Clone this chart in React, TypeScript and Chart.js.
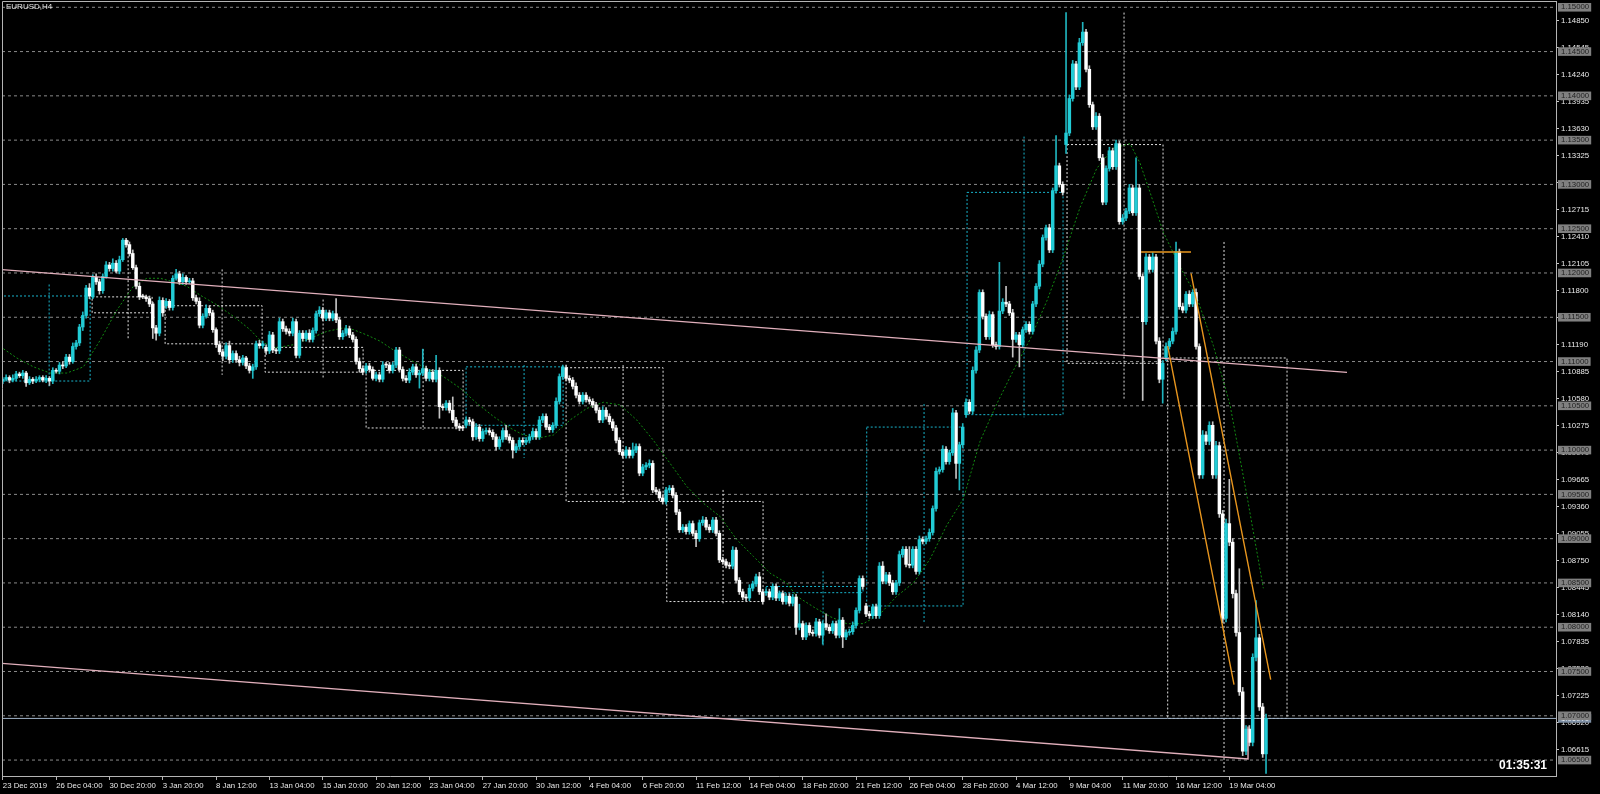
import React, { useEffect, useRef } from 'react';
import { Chart, registerables } from 'chart.js';

Chart.register(...registerables);

// ---------------- data (prices in pips above 1.0000 : 1082 -> 1.1082) ----------------
const CLOSE: number[] = [
  1080, 1082, 1079, 1081, 1086, 1084, 1087, 1076, 1080, 1078,
  1080, 1082, 1079, 1081, 1078, 1090, 1089, 1096, 1095, 1105,
  1100, 1117, 1121, 1139, 1152, 1183, 1174, 1195, 1190, 1180,
  1196, 1209, 1205, 1211, 1202, 1215, 1237, 1232, 1222, 1206,
  1185, 1173, 1173, 1171, 1165, 1138, 1132, 1169, 1155, 1168,
  1161, 1194, 1199, 1190, 1195, 1190, 1191, 1172, 1168, 1141,
  1151, 1160, 1155, 1136, 1119, 1111, 1106, 1118, 1102, 1109,
  1102, 1099, 1104, 1095, 1090, 1094, 1120, 1118, 1120, 1112,
  1130, 1113, 1112, 1145, 1137, 1134, 1132, 1145, 1107, 1132,
  1126, 1132, 1125, 1135, 1154, 1158, 1149, 1155, 1149, 1154,
  1147, 1128, 1132, 1137, 1130, 1125, 1100, 1092, 1088, 1095,
  1091, 1081, 1085, 1080, 1096, 1096, 1090, 1096, 1113, 1091,
  1081, 1079, 1088, 1094, 1085, 1087, 1092, 1081, 1088, 1080,
  1090, 1049, 1048, 1053, 1045, 1034, 1027, 1025, 1025, 1034,
  1032, 1015, 1026, 1013, 1021, 1022, 1020, 1015, 1004, 1012,
  1022, 1015, 1011, 1000, 1004, 1011, 1009, 1011, 1015, 1021,
  1015, 1034, 1038, 1026, 1023, 1028, 1055, 1083, 1094, 1081,
  1079, 1072, 1062, 1055, 1062, 1057, 1055, 1051, 1045, 1034,
  1045, 1038, 1032, 1025, 1011, 998, 994, 1000, 994, 1000,
  1004, 974, 981, 983, 985, 955, 953, 946, 942, 955,
  957, 949, 930, 910, 913, 908, 917, 906, 900, 918,
  921, 913, 910, 921, 906, 876, 874, 870, 869, 887,
  853, 840, 834, 833, 844, 849, 857, 840, 829, 840,
  834, 846, 833, 838, 829, 835, 827, 834, 800, 804,
  789, 802, 794, 793, 806, 791, 804, 800, 796, 804,
  791, 808, 789, 794, 795, 802, 819, 855, 846, 815,
  813, 823, 813, 869, 852, 859, 850, 840, 850, 882,
  888, 871, 870, 888, 863, 899, 897, 900, 907, 934,
  976, 978, 1001, 987, 997, 1042, 985, 1006, 1026, 1054,
  1044, 1090, 1113, 1178, 1151, 1128, 1153, 1119, 1117, 1157,
  1167, 1165, 1155, 1125, 1130, 1119, 1136, 1142, 1134, 1165,
  1185, 1210, 1240, 1251, 1226, 1293, 1321, 1300, 1291, 1358,
  1397, 1436, 1410, 1460, 1472, 1430, 1390, 1365, 1377, 1330,
  1280, 1318, 1338, 1320, 1346, 1258, 1262, 1270, 1296, 1268,
  1296, 1196, 1145, 1218, 1204, 1218, 1123, 1080, 1098, 1117,
  1123, 1134, 1224, 1162, 1158, 1176, 1165, 1178, 1117, 972,
  1017, 1010, 1028, 972, 1005, 928, 810, 917, 896, 838,
  794, 727, 660, 685, 670, 766, 788, 710, 657, 697,
];

// wick lengths (pips) above the body top / below the body bottom
const UPPER_WICK: number[] = [
  2, 3, 2, 4, 3, 2, 3, 2, 3, 2, 3, 2, 2, 3, 2, 3, 2, 3, 4, 3,
  3, 4, 3, 3, 4, 3, 5, 3, 4, 3, 3, 4, 3, 5, 3, 4, 2, 2, 3, 4,
  3, 4, 3, 2, 3, 2, 3, 4, 3, 3, 2, 3, 5, 3, 4, 2, 3, 3, 3, 4,
  3, 4, 3, 3, 2, 4, 3, 3, 5, 3, 3, 4, 3, 2, 3, 3, 3, 4, 3, 3,
  4, 3, 2, 4, 3, 3, 3, 4, 3, 3, 3, 3, 4, 3, 3, 4, 3, 3, 3, 3,
  17, 3, 3, 4, 3, 3, 3, 4, 3, 3, 3, 3, 3, 3, 4, 3, 3, 3, 3, 3,
  3, 3, 4, 3, 3, 3, 22, 3, 3, 3, 17, 3, 3, 3, 3, 15, 3, 3, 3, 3,
  3, 3, 4, 3, 3, 3, 3, 3, 3, 3, 3, 6, 3, 3, 3, 3, 3, 3, 3, 4,
  3, 4, 3, 3, 3, 3, 4, 3, 2, 3, 3, 3, 4, 3, 3, 3, 3, 3, 3, 3,
  4, 3, 3, 3, 3, 3, 3, 4, 3, 8, 3, 3, 3, 3, 4, 3, 3, 3, 3, 3,
  3, 3, 3, 3, 3, 3, 3, 3, 3, 3, 4, 3, 3, 3, 3, 3, 3, 3, 3, 4,
  3, 3, 3, 3, 4, 3, 3, 5, 3, 3, 3, 3, 3, 3, 3, 3, 3, 3, 3, 22,
  3, 3, 3, 3, 4, 3, 3, 11, 3, 3, 3, 13, 3, 3, 3, 4, 3, 3, 3, 3,
  3, 3, 3, 4, 5, 3, 3, 3, 3, 4, 3, 3, 20, 3, 3, 4, 3, 3, 4, 3,
  4, 3, 4, 3, 3, 5, 3, 3, 4, 4, 3, 4, 4, 3, 3, 3, 4, 3, 3, 55,
  4, 18, 3, 4, 3, 3, 3, 3, 3, 3, 3, 4, 3, 3, 4, 3, 34, 3, 3, 136,
  4, 4, 3, 5, 11, 3, 4, 3, 4, 3, 4, 3, 4, 3, 4, 3, 4, 3, 4, 3,
  34, 4, 3, 4, 3, 5, 3, 4, 3, 4, 3, 4, 11, 3, 4, 3, 4, 3, 4, 3,
  5, 4, 4, 4, 5, 4, 4, 5, 50, 4, 4, 72, 5, 4, 4, 4, 42, 4, 4, 5,
];
const LOWER_WICK: number[] = [
  3, 2, 3, 2, 3, 2, 3, 4, 2, 3, 2, 3, 2, 3, 5, 3, 2, 3, 3, 2,
  3, 2, 3, 3, 4, 3, 3, 2, 3, 4, 3, 2, 3, 3, 2, 3, 2, 3, 3, 2,
  3, 3, 2, 3, 3, 12, 8, 3, 4, 3, 3, 3, 2, 3, 3, 3, 2, 3, 3, 3,
  3, 2, 3, 3, 3, 3, 5, 3, 4, 3, 3, 4, 3, 3, 3, 9, 3, 3, 3, 4,
  3, 3, 3, 3, 3, 3, 3, 3, 3, 3, 3, 3, 3, 3, 3, 3, 3, 3, 3, 3,
  3, 3, 3, 3, 3, 3, 3, 4, 3, 3, 3, 2, 3, 3, 3, 3, 3, 3, 3, 3,
  3, 3, 3, 3, 3, 15, 3, 3, 3, 3, 3, 13, 3, 3, 3, 3, 3, 3, 3, 3,
  3, 4, 3, 3, 3, 3, 3, 3, 4, 3, 3, 3, 3, 9, 3, 3, 3, 3, 3, 3,
  3, 3, 3, 3, 3, 3, 3, 3, 3, 3, 3, 3, 3, 3, 3, 3, 3, 3, 3, 3,
  3, 3, 3, 3, 3, 3, 3, 3, 3, 3, 3, 3, 3, 3, 3, 3, 3, 3, 3, 3,
  3, 3, 3, 3, 3, 3, 3, 3, 9, 3, 3, 3, 3, 3, 3, 3, 3, 3, 3, 3,
  3, 3, 3, 3, 3, 3, 3, 3, 3, 3, 3, 3, 3, 3, 3, 3, 3, 3, 8, 3,
  3, 3, 3, 3, 3, 3, 10, 3, 3, 3, 3, 3, 12, 3, 3, 3, 3, 3, 3, 3,
  3, 3, 3, 3, 3, 3, 3, 3, 3, 3, 3, 3, 3, 3, 3, 3, 3, 3, 3, 3,
  3, 3, 3, 3, 3, 3, 17, 30, 3, 3, 3, 3, 3, 3, 3, 3, 3, 3, 3, 3,
  3, 3, 3, 20, 3, 25, 3, 3, 3, 3, 3, 3, 3, 3, 3, 3, 3, 3, 3, 10,
  3, 3, 3, 3, 3, 3, 3, 3, 3, 3, 3, 3, 3, 3, 3, 3, 3, 3, 3, 3,
  3, 3, 89, 3, 3, 3, 3, 4, 27, 3, 3, 3, 3, 3, 3, 3, 3, 3, 3, 4,
  4, 4, 4, 4, 4, 4, 5, 4, 4, 5, 4, 4, 5, 4, 4, 4, 4, 4, 4, 22,
];

// weekly (higher time frame) candles drawn as dotted boxes
const WEEK_START = [0, 27, 49, 79, 109, 139, 169, 199, 229, 259, 289, 319, 349];
const WEEK_OPEN = [1078, 1173, 1163, 1116, 1090, 1028, 1093, 942, 839, 824, 1040, 1345, 1104];
const WEEK_CLOSE = [1174, 1155, 1120, 1088, 1025, 1094, 942, 829, 846, 1026, 1291, 1098, 697];
const WEEK_HIGH = [1187, 1237, 1204, 1170, 1114, 1096, 1096, 955, 863, 1052, 1354, 1494, 1235];
const WEEK_LOW = [1072, 1125, 1085, 1082, 1023, 991, 940, 827, 778, 804, 1037, 1056, 635];
const WEEK_BOX_FROM = [-0.84, 26.8, 48.7, 78.7, 109.0, 139.0, 169.0, 199.2, 229.0, 259.2, 289.3, 319.3, 349.5];
const WEEK_BOX_TO = [26.2, 44.8, 77.8, 108.1, 138.1, 168.1, 198.1, 228.1, 258.1, 288.1, 318.1, 348.1, 385.3];
const WEEK_WICK_AT = [13.9, 37.6, 65.8, 96.1, 126.1, 156.4, 186.1, 216.1, 246.1, 276.4, 306.4, 336.4, 366.4];

// moving average (dotted green)
const MA_BAR = [-0.8, 4.2, 9.2, 14.2, 19.2, 24.2, 29.2, 34.2, 39.2, 43.2, 47.2, 51.2, 55.2, 59.2, 64.2, 69.2, 74.2, 77.2, 81.2, 87.2,
  92.2, 97.2, 102.2, 105.2, 109.2, 113.2, 117.2, 122.2, 127.2, 132.2, 137.2, 142.2, 147.2, 152.2, 156.2, 161.2, 165.2, 170.2, 175.2, 180.2,
  185.2, 190.2, 195.2, 200.2, 205.2, 210.2, 215.2, 220.2, 225.2, 230.2, 235.2, 238.2, 243.2, 248.2, 253.2, 258.2, 263.2, 268.2, 273.2, 278.2,
  283.2, 288.2, 293.2, 298.2, 303.2, 308.2, 313.2, 318.2, 323.2, 328.2, 333.2, 338.2, 341.2, 344.2, 348.2, 353.2, 358.2, 363.2, 368.2, 373.2, 378.2];
const MA_PIPS = [1117, 1104, 1094, 1087, 1087, 1094, 1124, 1158, 1185, 1194, 1194, 1190, 1185, 1175, 1164, 1151, 1136, 1124, 1115, 1119,
  1126, 1134, 1138, 1136, 1130, 1123, 1113, 1102, 1092, 1083, 1070, 1053, 1038, 1025, 1017, 1014, 1017, 1034, 1047, 1054,
  1051, 1034, 1011, 985, 959, 940, 925, 899, 880, 861, 850, 835, 823, 812, 804, 804, 815, 835, 850, 877,
  915, 945, 1010, 1052, 1090, 1125, 1168, 1218, 1274, 1318, 1341, 1346, 1324, 1291, 1246, 1207, 1173, 1118, 1051, 950, 844];

// trend lines (bar position, price)
const CHANNEL_UPPER_BARS = [-0.84, 403.3];
const CHANNEL_UPPER_PRICES = [1.12040, 1.10877];
const CHANNEL_LOWER_BARS = [-0.84, 373.6, 373.6];
const CHANNEL_LOWER_PRICES = [1.07593, 1.06512, 1.06880];
const ORANGE_TOP_BARS = [341.5, 356.5];
const ORANGE_TOP_PRICES = [1.12236, 1.12236];
const ORANGE_A_BARS = [356.5, 380.4];
const ORANGE_A_PRICES = [1.11995, 1.07407];
const ORANGE_B_BARS = [349.5, 369.4];
const ORANGE_B_PRICES = [1.11175, 1.07352];

// axis labels
const TIME_TICK_BARS = [0, 16, 32, 48, 64, 80, 96, 112, 128, 144, 160, 176, 192, 208, 224, 240, 256, 272, 288, 304, 320, 336, 352, 368];
const TIME_LABELS = ['23 Dec 2019', '26 Dec 04:00', '30 Dec 20:00', '3 Jan 20:00', '8 Jan 12:00', '13 Jan 04:00', '15 Jan 20:00',
  '20 Jan 12:00', '23 Jan 04:00', '27 Jan 20:00', '30 Jan 12:00', '4 Feb 04:00', '6 Feb 20:00', '11 Feb 12:00', '14 Feb 04:00',
  '18 Feb 20:00', '21 Feb 12:00', '26 Feb 04:00', '28 Feb 20:00', '4 Mar 12:00', '9 Mar 04:00', '11 Mar 20:00', '16 Mar 12:00', '19 Mar 04:00'];
const PRICE_TICKS = [1.14850, 1.14545, 1.14240, 1.13935, 1.13630, 1.13325, 1.13020, 1.12715, 1.12410, 1.12105, 1.11800, 1.11495,
  1.11190, 1.10885, 1.10580, 1.10275, 1.09970, 1.09665, 1.09360, 1.09055, 1.08750, 1.08445, 1.08140, 1.07835, 1.07530, 1.07225,
  1.06920, 1.06615];
const LEVELS = [1.150, 1.145, 1.140, 1.135, 1.130, 1.125, 1.120, 1.115, 1.110, 1.105, 1.100, 1.095, 1.090, 1.085, 1.080, 1.075, 1.070, 1.065];

// ---------------- chart ----------------
const X_MIN = -0.24;
const X_MAX = 466.0;
const Y_MIN = 1.0632;
const Y_MAX = 1.15071;
const FONT = '"Liberation Sans", Arial, sans-serif';

const P = (v: number) => 1 + v / 10000;

export default function App() {
  const ref = useRef<HTMLCanvasElement>(null);

  useEffect(() => {
    const canvas = ref.current;
    if (!canvas) return;
    const n = CLOSE.length;
    const opens = CLOSE.map((c, i) => {
      const w = WEEK_START.indexOf(i);
      return w >= 0 ? WEEK_OPEN[w] : CLOSE[i - 1];
    });
    const bullBody: any[] = [], bearBody: any[] = [], bullWick: any[] = [], bearWick: any[] = [];
    for (let i = 0; i < n; i++) {
      const o = opens[i], c = CLOSE[i];
      const hi = Math.max(o, c) + UPPER_WICK[i];
      const lo = Math.min(o, c) - LOWER_WICK[i];
      const body = { x: i, y: [P(o), P(c)] };
      const wick = { x: i, y: [P(lo), P(hi)] };
      if (c > o) { bullBody.push(body); bullWick.push(wick); } else { bearBody.push(body); bearWick.push(wick); }
    }

    const whiteBox: any[] = [], cyanBox: any[] = [];
    WEEK_OPEN.forEach((o, w) => {
      const c = WEEK_CLOSE[w];
      const arr = c > o ? cyanBox : whiteBox;
      const top = P(Math.max(o, c)), bot = P(Math.min(o, c));
      const a = WEEK_BOX_FROM[w], b = WEEK_BOX_TO[w], m = WEEK_WICK_AT[w];
      arr.push({ x: a, y: top }, { x: b, y: top }, { x: b, y: bot }, { x: a, y: bot }, { x: a, y: top }, { x: a, y: null });
      arr.push({ x: m, y: P(WEEK_HIGH[w]) }, { x: m, y: P(WEEK_LOW[w]) }, { x: m, y: null });
    });

    const levelPts: any[] = [];
    LEVELS.forEach((l) => levelPts.push({ x: X_MIN, y: l }, { x: X_MAX, y: l }, { x: X_MAX, y: null }));

    const pts = (bars: number[], prices: number[]) => bars.map((b, i) => ({ x: b, y: prices[i] }));
    const pinkPts = [...pts(CHANNEL_UPPER_BARS, CHANNEL_UPPER_PRICES), { x: 0, y: null }, ...pts(CHANNEL_LOWER_BARS, CHANNEL_LOWER_PRICES)];
    const orangePts = [...pts(ORANGE_TOP_BARS, ORANGE_TOP_PRICES), { x: 0, y: null }, ...pts(ORANGE_A_BARS, ORANGE_A_PRICES),
      { x: 0, y: null }, ...pts(ORANGE_B_BARS, ORANGE_B_PRICES)];
    const maPts = MA_BAR.map((b, i) => ({ x: b, y: P(MA_PIPS[i]) }));
    const bid = P(CLOSE[n - 1]);
    const bidPts = [{ x: X_MIN, y: bid }, { x: X_MAX, y: bid }];

    const isLevel = (v: number) => LEVELS.some((l) => Math.abs(l - v) < 1e-7);
    const isBid = (v: number) => Math.abs(v - bid) < 1e-7;

    const line = (data: any[], color: string, width: number, dash: number[], order: number) => ({
      type: 'line' as const, data, borderColor: color, borderWidth: width, borderDash: dash,
      pointRadius: 0, pointHoverRadius: 0, fill: false, tension: 0, order,
    });
    const bar = (data: any[], color: string, width: number, order: number) => ({
      type: 'bar' as const, data, backgroundColor: color, borderWidth: 0, grouped: false,
      barPercentage: 1, categoryPercentage: 1, maxBarThickness: width, minBarLength: 1, order,
    });

    const decor = {
      id: 'decor',
      beforeDraw(chart: any) {
        const { ctx, width, height } = chart;
        ctx.save();
        ctx.fillStyle = '#000000';
        ctx.fillRect(0, 0, width, height);
        ctx.restore();
      },
      afterDraw(chart: any) {
        const { ctx, chartArea: a } = chart;
        ctx.save();
        ctx.strokeStyle = '#b4b4b4';
        ctx.lineWidth = 1;
        ctx.beginPath();
        ctx.moveTo(a.left + 0.5, a.bottom);
        ctx.lineTo(a.left + 0.5, a.top + 0.5);
        ctx.lineTo(a.right, a.top + 0.5);
        ctx.stroke();
        ctx.fillStyle = '#e8e8e8';
        ctx.font = `8px ${FONT}`;
        ctx.textAlign = 'left';
        ctx.textBaseline = 'top';
        ctx.fillText('EURUSD,H4', 6, 3);
        ctx.font = `bold 12px ${FONT}`;
        ctx.textAlign = 'right';
        ctx.textBaseline = 'alphabetic';
        ctx.fillStyle = '#ffffff';
        ctx.fillText('01:35:31', 1547, 769);
        ctx.restore();
      },
    };

    const chart = new Chart(canvas, {
      type: 'bar',
      data: {
        datasets: [
          line(orangePts, '#e8961e', 1.4, [], 1),
          line(pinkPts, '#e2b0bc', 1.4, [], 2),
          bar(bullBody, '#22ccd6', 2.8, 3),
          bar(bearBody, '#ffffff', 2.8, 3),
          bar(bullWick, '#1fb4be', 1, 4),
          bar(bearWick, '#c4c4c4', 1, 4),
          line(bidPts, '#9fb1c6', 1, [], 5),
          line(maPts, '#128a12', 1, [2, 2], 6),
          line(cyanBox, '#18b4cc', 1, [2, 2], 7),
          line(whiteBox, '#e0e0e0', 1, [2, 2], 7),
          line(levelPts, '#8a8a8a', 1, [3, 3], 8),
        ] as any,
      },
      plugins: [decor],
      options: {
        responsive: false,
        animation: false,
        events: [],
        layout: { padding: { left: 2, top: 1, right: 0, bottom: 0 } },
        plugins: { legend: { display: false }, tooltip: { enabled: false }, title: { display: false } },
        scales: {
          x: {
            type: 'linear', position: 'bottom', min: X_MIN, max: X_MAX, offset: false,
            afterBuildTicks: (scale: any) => { scale.ticks = TIME_TICK_BARS.map((v) => ({ value: v })); },
            afterFit: (scale: any) => { scale.height = 18; scale.paddingLeft = 0; scale.paddingRight = 0; },
            ticks: {
              autoSkip: false, maxRotation: 0, minRotation: 0, align: 'start', padding: 1,
              color: '#e8e8e8', font: { family: FONT, size: 7.8 },
              callback: (_v: any, i: number) => TIME_LABELS[i],
            },
            grid: { drawOnChartArea: false, tickLength: 4, tickColor: '#b4b4b4', offset: false },
            border: { display: true, color: '#b4b4b4', width: 1 },
          },
          y: {
            type: 'linear', position: 'right', min: Y_MIN, max: Y_MAX, beginAtZero: false,
            afterBuildTicks: (scale: any) => {
              scale.ticks = [...PRICE_TICKS.map((v) => ({ value: v })), { value: bid }, ...LEVELS.map((v) => ({ value: v }))];
            },
            afterFit: (scale: any) => { scale.width = 44; scale.paddingTop = 0; scale.paddingBottom = 0; },
            ticks: {
              autoSkip: false, padding: 2,
              font: { family: FONT, size: 7.8, lineHeight: 1.1 },
              callback: (v: any) => Number(v).toFixed(5),
              color: (ctx: any) => (isLevel(ctx.tick.value) ? '#1e1e1e' : isBid(ctx.tick.value) ? '#eef2f6' : '#e8e8e8'),
              showLabelBackdrop: (ctx: any) => isLevel(ctx.tick.value) || isBid(ctx.tick.value),
              backdropColor: (ctx: any) => (isBid(ctx.tick.value) ? '#7d8fa4' : '#808080'),
              backdropPadding: { top: 0, bottom: 0, left: 3, right: 2 },
            } as any,
            grid: {
              drawOnChartArea: false, tickLength: 3,
              tickColor: (ctx: any) => (isLevel(ctx.tick.value) || isBid(ctx.tick.value) ? 'rgba(0,0,0,0)' : '#c8c8c8'),
            },
            border: { display: true, color: '#b4b4b4', width: 1 },
          },
        },
      } as any,
    });
    return () => chart.destroy();
  }, []);

  return (
    <div style={{ position: 'fixed', left: 0, top: 0, width: 1600, height: 794, background: '#000' }}>
      <canvas ref={ref} width={1600} height={794} style={{ display: 'block', width: 1600, height: 794 }} />
    </div>
  );
}
